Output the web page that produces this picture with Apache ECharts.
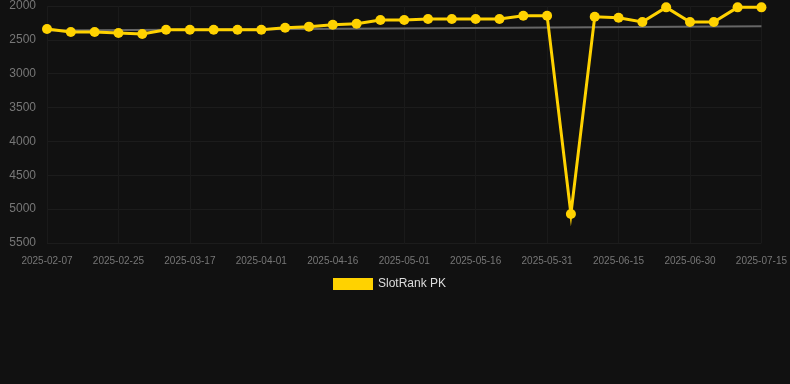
<!DOCTYPE html>
<html>
<head>
<meta charset="utf-8">
<script src="https://cdn.jsdelivr.net/npm/echarts@6/dist/echarts.min.js"></script>
<style>
  html, body { margin: 0; padding: 0; background: #111111; }
  #chart { width: 790px; height: 384px; }
</style>
</head>
<body>
<div id="chart"></div>
<script>
const dates = [
  '2025-02-07', '2025-02-13', '2025-02-19', '2025-02-25', '2025-03-03', '2025-03-10',
  '2025-03-17', '2025-03-22', '2025-03-27', '2025-04-01', '2025-04-06', '2025-04-11',
  '2025-04-16', '2025-04-21', '2025-04-26', '2025-05-01', '2025-05-06', '2025-05-11',
  '2025-05-16', '2025-05-21', '2025-05-26', '2025-05-31', '2025-06-05', '2025-06-10',
  '2025-06-15', '2025-06-20', '2025-06-25', '2025-06-30', '2025-07-05', '2025-07-10',
  '2025-07-15'
];
const rankPK = [
  2340, 2384, 2384, 2400, 2413, 2350, 2350, 2350, 2350, 2350, 2320, 2305,
  2276, 2261, 2207, 2207, 2192, 2192, 2192, 2192, 2143, 2143, 5071, 2158,
  2173, 2236, 2020, 2236, 2236, 2020, 2020
];
// trend line end points
const trendStart = 2360;
const trendEnd = 2300;

const chart = echarts.init(document.getElementById('chart'), null, { renderer: 'canvas' });

chart.setOption({
  backgroundColor: '#111111',
  animation: false,
  grid: { left: 47, right: 28, top: 6, bottom: 141 },
  legend: {
    left: 328,
    top: 273,
    itemWidth: 40,
    itemHeight: 12,
    itemGap: 10,
    icon: 'rect',
    data: ['SlotRank PK'],
    textStyle: { color: '#dddddd', fontSize: 12, fontFamily: 'Liberation Sans, Arial, sans-serif' },
  },
  xAxis: {
    type: 'category',
    boundaryGap: false,
    data: dates,
    axisLine: { show: false },
    axisTick: { show: false },
    axisLabel: {
      interval: 2,
      color: '#777777',
      fontSize: 10,
      margin: 13,
      fontFamily: 'Liberation Sans, Arial, sans-serif',
    },
    splitLine: { show: true, interval: 2, lineStyle: { color: '#1a1a1a', width: 1 } },
  },
  yAxis: {
    type: 'value',
    inverse: true,
    min: 2000,
    max: 5500,
    interval: 500,
    axisLine: { show: false },
    axisTick: { show: false },
    axisLabel: {
      color: '#777777',
      fontSize: 12,
      margin: 11,
      fontFamily: 'Liberation Sans, Arial, sans-serif',
      formatter: (v) => String(v),
    },
    splitLine: { lineStyle: { color: '#1c1c1c', width: 1 } },
  },
  series: [
    {
      name: 'Trend',
      type: 'line',
      symbol: 'none',
      silent: true,
      lineStyle: { color: '#666666', width: 2 },
      data: [[dates[0], trendStart], [dates[dates.length - 1], trendEnd]],
      z: 1,
    },
    {
      name: 'SlotRank PK',
      type: 'line',
      symbol: 'circle',
      symbolSize: 10,
      itemStyle: { color: '#ffd200' },
      lineStyle: { color: '#ffd200', width: 3, join: 'miter', miterLimit: 20 },
      data: rankPK,
      z: 2,
    },
  ],
});
</script>
</body>
</html>
